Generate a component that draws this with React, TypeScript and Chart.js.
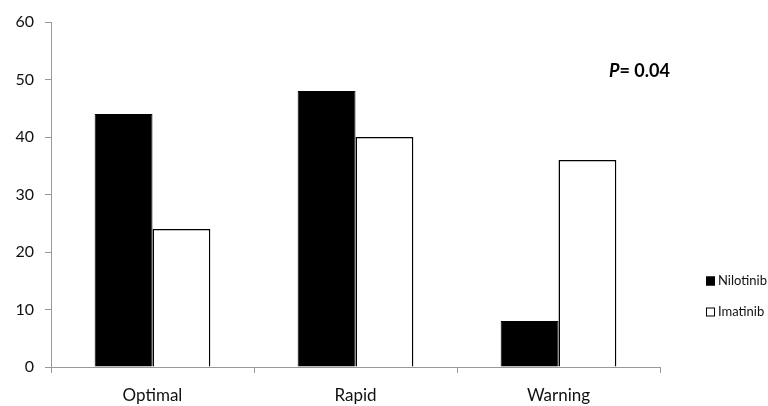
import React, { useEffect, useRef } from "react";
import { Chart, registerables } from "chart.js";

Chart.register(...registerables);

const categories = ["Optimal", "Rapid", "Warning"];
const nilotinib = [44, 48, 8];
const imatinib = [24, 40, 36];
const seriesNames = ["Nilotinib", "Imatinib"];
const pLabel = "P";
const pValue = "= 0.04";

const FONT = "Lato, 'Open Sans', sans-serif";

const overlay = {
  id: "overlay",
  afterDraw(chart: any) {
    const ctx = chart.ctx;
    ctx.save();
    // P value annotation
    ctx.fillStyle = "#000";
    ctx.textBaseline = "alphabetic";
    ctx.textAlign = "left";
    ctx.font = `italic bold 18px ${FONT}`;
    const px = 609;
    const py = 77;
    ctx.fillText(pLabel, px, py);
    const w = ctx.measureText(pLabel).width;
    ctx.font = `bold 18px ${FONT}`;
    ctx.fillText(pValue, px + w, py);
    // legend
    const items = [
      { name: seriesNames[0], fill: "#000", y: 281 },
      { name: seriesNames[1], fill: "#fff", y: 312 },
    ];
    ctx.font = `13px ${FONT}`;
    ctx.textBaseline = "middle";
    for (const it of items) {
      ctx.fillStyle = it.fill;
      ctx.fillRect(706, it.y - 4.5, 9, 9);
      ctx.strokeStyle = "#000";
      ctx.lineWidth = 1;
      ctx.strokeRect(706.5, it.y - 4, 8, 8);
      ctx.fillStyle = "#111";
      ctx.fillText(it.name, 718, it.y);
    }
    ctx.restore();
  },
};

export default function App() {
  const ref = useRef<HTMLCanvasElement | null>(null);
  useEffect(() => {
    document.body.style.margin = "0";
    const chart = new Chart(ref.current as HTMLCanvasElement, {
      type: "bar",
      data: {
        labels: categories,
        datasets: [
          {
            label: seriesNames[0],
            data: nilotinib,
            backgroundColor: "#000",
            borderColor: "#000",
            borderWidth: 1,
          },
          {
            label: seriesNames[1],
            data: imatinib,
            backgroundColor: "#fff",
            borderColor: "#000",
            borderWidth: 1.5,
          },
        ],
      },
      options: {
        animation: false,
        responsive: false,
        maintainAspectRatio: false,
        layout: { padding: { left: 0, right: 108, top: 22, bottom: 0 } },
        plugins: {
          legend: { display: false },
          tooltip: { enabled: false },
        },
        datasets: {
          bar: { categoryPercentage: 0.57, barPercentage: 1 },
        },
        scales: {
          x: {
            offset: true,
            grid: {
              display: true,
              offset: true,
              drawOnChartArea: false,
              drawTicks: true,
              tickLength: 6,
              color: "#999",
            },
            border: { display: true, color: "#999", width: 1 },
            ticks: {
              color: "#111",
              font: { family: FONT, size: 17 },
              padding: 12,
            },
            afterFit: (s: any) => {
              s.height = 39;
            },
          },
          y: {
            min: 0,
            max: 60,
            ticks: {
              stepSize: 10,
              color: "#111",
              font: { family: FONT, size: 16 },
              padding: 11,
            },
            grid: {
              display: true,
              drawOnChartArea: false,
              drawTicks: true,
              tickLength: 6,
              color: "#999",
            },
            border: { display: true, color: "#999", width: 1 },
            afterFit: (s: any) => {
              s.width = 51;
            },
          },
        },
      },
      plugins: [overlay],
    });
    return () => chart.destroy();
  }, []);
  return (
    <div style={{ width: 768, height: 406, background: "#fff" }}>
      <canvas ref={ref} width={768} height={406} style={{ display: "block" }} />
    </div>
  );
}
